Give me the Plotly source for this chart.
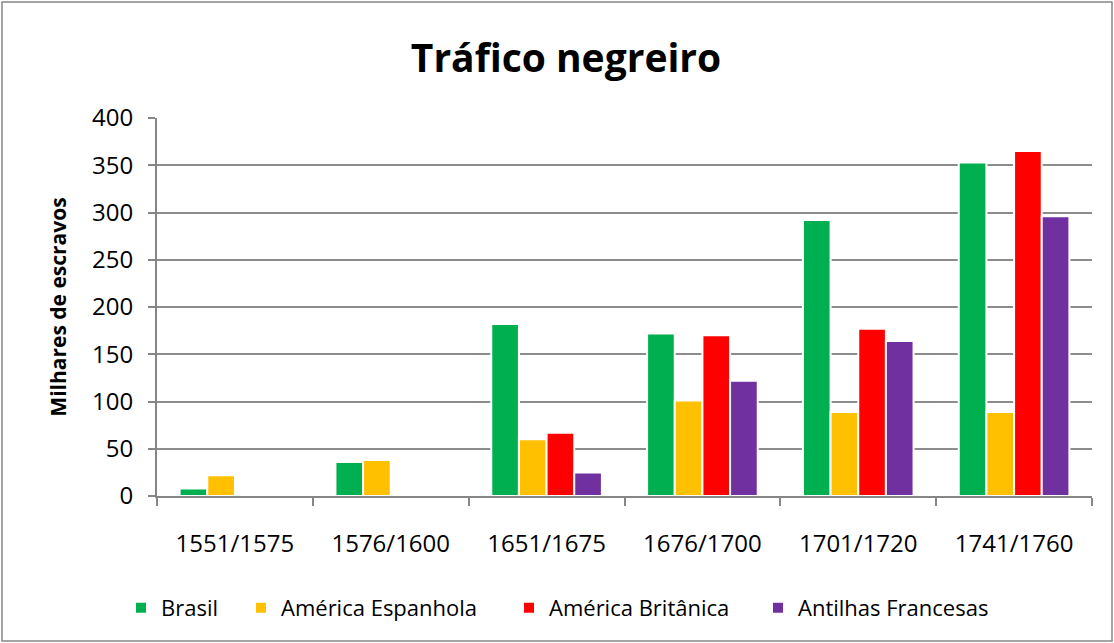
import plotly.graph_objects as go

categories = ["1551/1575", "1576/1600", "1651/1675", "1676/1700", "1701/1720", "1741/1760"]
brasil = [8, 36, 182, 172, 292, 353]
america_espanhola = [22, 38, 60, 101, 89, 89]
america_britanica = [None, None, 67, 170, 177, 365]
antilhas_francesas = [None, None, 25, 122, 164, 296]

series_names = ["Brasil", "América Espanhola", "América Britânica", "Antilhas Francesas"]
series_values = [brasil, america_espanhola, america_britanica, antilhas_francesas]
series_colors = ["#00B050", "#FFC000", "#FF0000", "#7030A0"]
legend_ids = ["legend", "legend2", "legend3", "legend4"]
legend_text_px = [163, 283, 551, 800]  # pixel x where each legend label starts

FONT = "Open Sans, Roboto, Arial, sans-serif"

fig = go.Figure()
for name, vals, col, lid in zip(series_names, series_values, series_colors, legend_ids):
    fig.add_trace(go.Bar(
        x=categories, y=vals, name=name, legend=lid,
        marker=dict(color=col, line=dict(color="white", width=2)),
    ))

L, R, T, B = 157, 22, 118, 147
W, H = 1114, 643
pw, ph = W - L - R, H - T - B

legend_y = -(608 - (T + ph)) / ph
legends = {}
for lid, tx in zip(legend_ids, legend_text_px):
    legends[lid] = dict(orientation="h", x=(tx - 42 - L) / pw, xanchor="left", xref="paper",
                        y=legend_y, yanchor="middle",
                        font=dict(family=FONT, size=22), itemwidth=30,
                        bgcolor="rgba(0,0,0,0)")

fig.update_layout(
    width=W, height=H,
    margin=dict(l=L, r=R, t=T, b=B),
    paper_bgcolor="white", plot_bgcolor="white",
    barmode="group", bargap=0.29, bargroupgap=0.0,
    font=dict(family=FONT, size=22, color="black"),
    title=dict(text="<b>Tráfico negreiro</b>", x=566 / W, xanchor="center",
               y=1 - 58 / H, yanchor="middle",
               font=dict(family=FONT, size=39, color="black")),
    showlegend=True,
    **legends,
    xaxis=dict(type="category", showline=True, linecolor="#868686", linewidth=2,
               ticks="outside", tickson="boundaries", ticklen=8, tickcolor="#868686",
               tickwidth=2, tickfont=dict(family=FONT, size=24), showgrid=False,
               ticklabelstandoff=25),
    yaxis=dict(range=[0, 400], dtick=50, showline=True, linecolor="#868686", linewidth=2,
               ticks="outside", ticklen=7, tickcolor="#868686", tickwidth=2,
               showgrid=True, gridcolor="#8c8c8c", gridwidth=2,
               tickfont=dict(family=FONT, size=24), ticklabelstandoff=10,
               title=dict(text="<b>Milhares de escravos</b>", standoff=20,
                          font=dict(family=FONT, size=21)),
               zeroline=False),
)

fig.add_shape(type="rect", xref="paper", yref="paper",
              x0=(2 - L) / pw, x1=(1112 - L) / pw,
              y0=-(641 - (T + ph)) / ph, y1=(T + ph - 2) / ph,
              line=dict(color="#868686", width=1.5), fillcolor="rgba(0,0,0,0)", layer="below")

fig.write_html("out.html", post_script="document.body.style.margin='0';",
               config={"displayModeBar": False})
